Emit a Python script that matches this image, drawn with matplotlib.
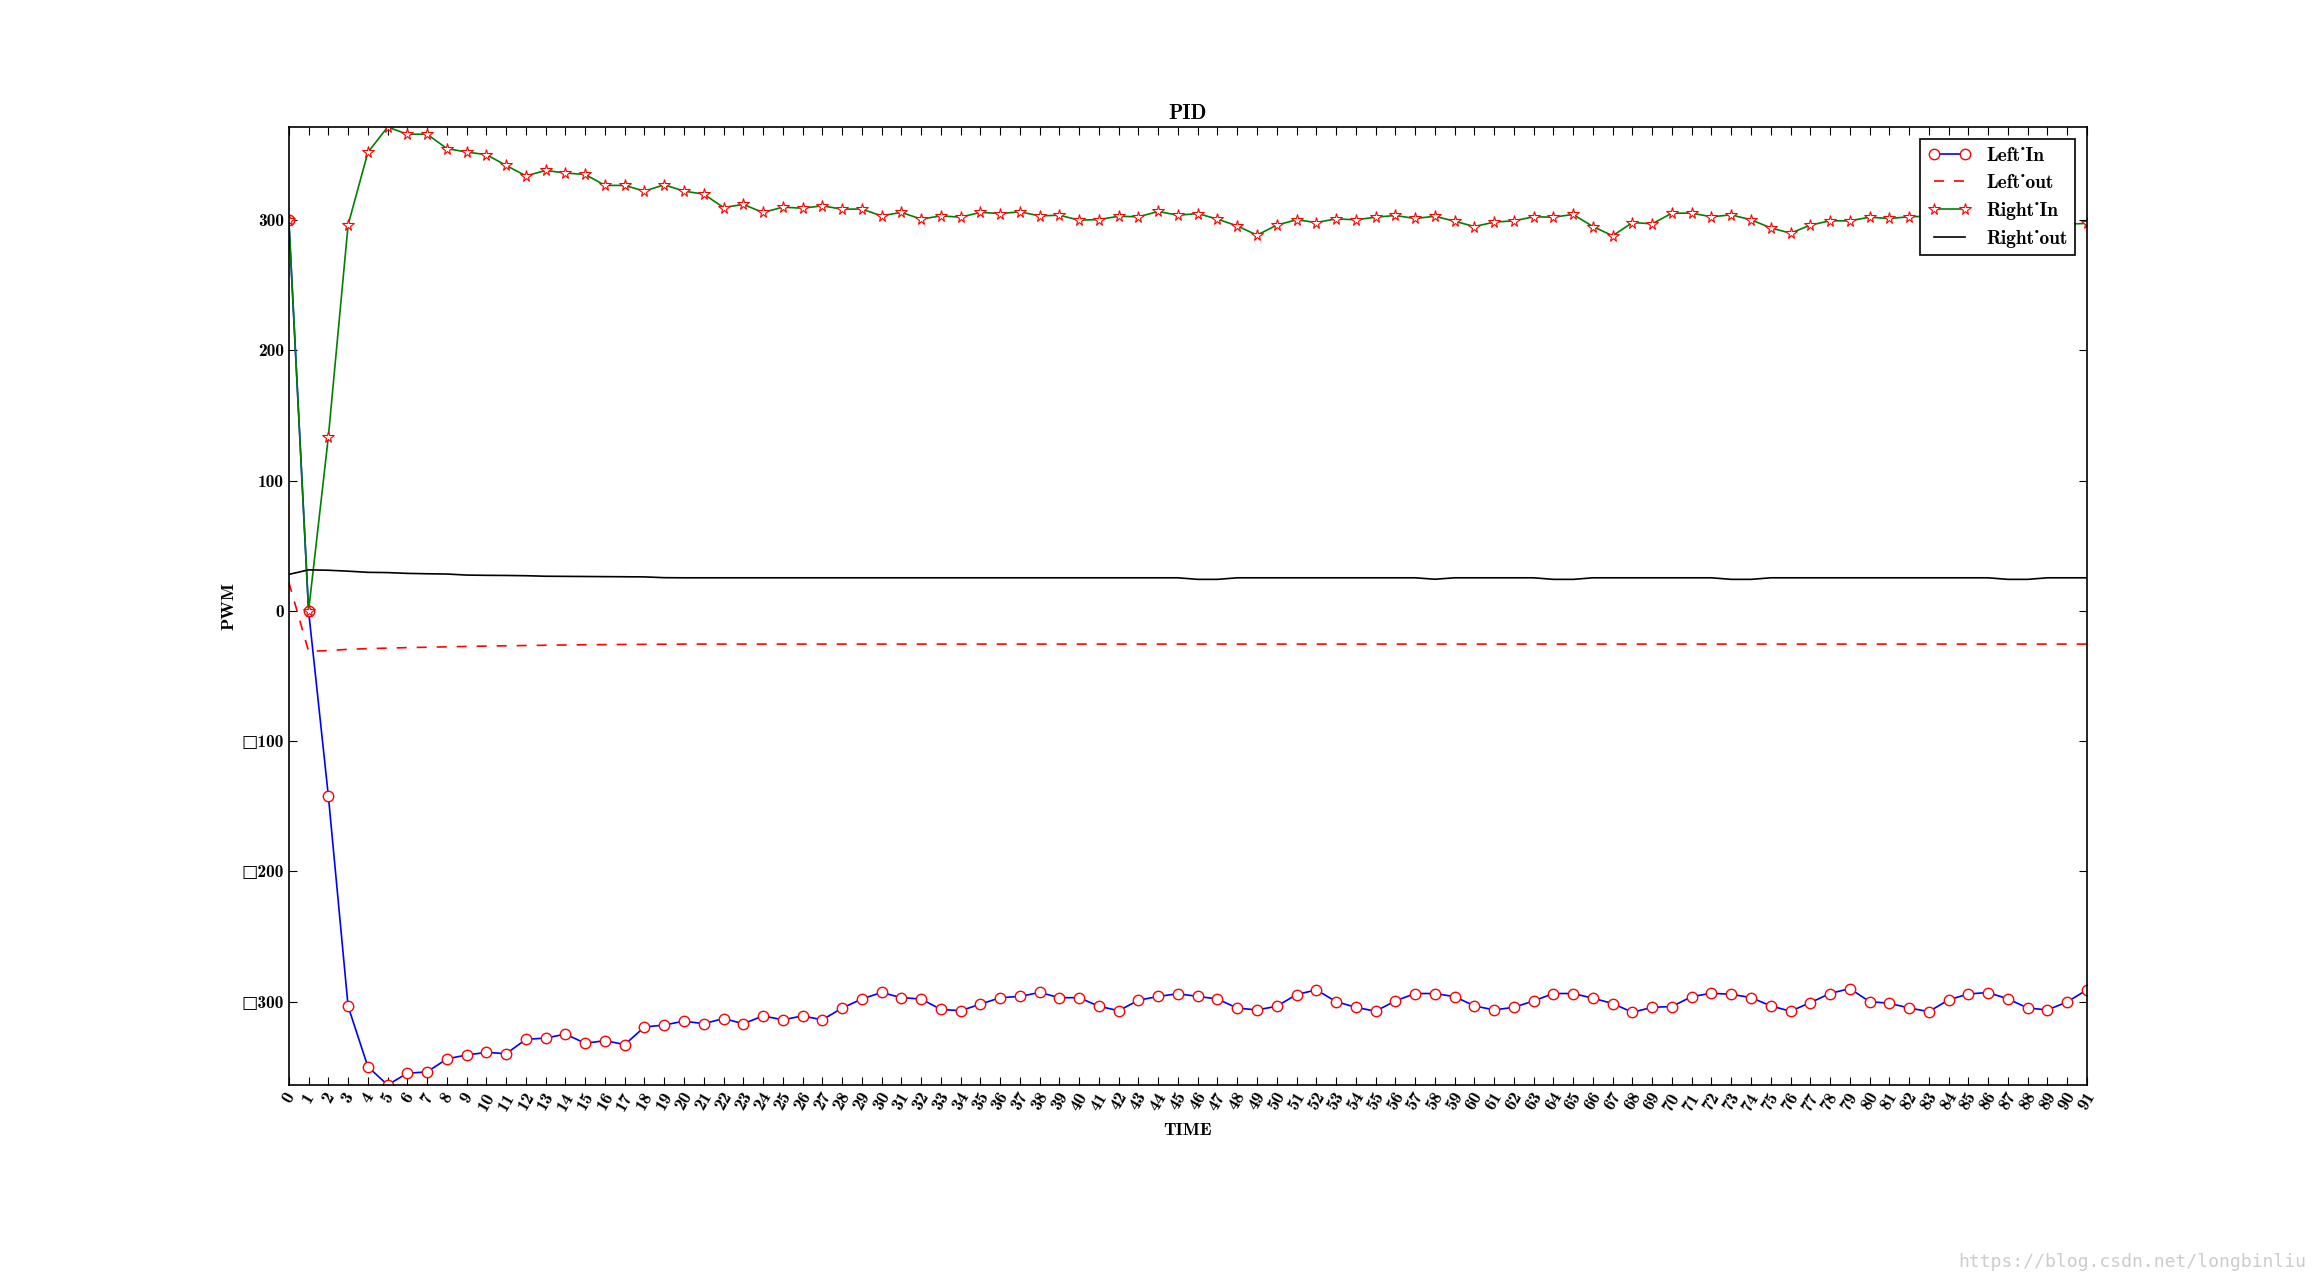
import numpy as np
import matplotlib
matplotlib.use('Agg')
import matplotlib.pyplot as plt

# PWM readings of a PID loop
time = list(range(92))
left_in = [300, 0, -142, -303.6, -350, -364, -355, -354, -344, -341,
           -339, -340, -329, -328, -325, -332, -330, -333, -319.5, -318,
           -315, -317, -313, -317, -311, -314, -311, -314, -305, -298,
           -293, -297, -298, -306, -307, -302, -297, -296, -293, -297,
           -297, -303.6, -307, -299, -296, -294, -296, -298, -305, -306.4,
           -303.6, -294.6, -291, -300, -304.4, -307.4, -299.5, -293.8, -293.8, -296.2,
           -303.3, -306.4, -304.4, -299.5, -293.8, -293.8, -297.4, -301.5, -308.2, -304.4,
           -303.8, -296.2, -293.6, -294.4, -296.9, -303.3, -307.4, -300.8, -293.8, -290,
           -300, -301.3, -304.9, -307.7, -298.7, -294.1, -293.1, -297.9, -304.9, -306.4,
           -300.3, -291]
left_out = [22, -31, -30.5, -29.5, -29, -28.6, -28.2, -27.9, -27.6, -27.3,
            -27, -26.8, -26.6, -26.4, -26.2, -26, -25.9, -25.8, -25.7, -25.6,
            -25.5] + [-25.5] * 71
right_in = [300, 0, 133.5, 296.4, 352, 371.5, 366, 366, 355, 352.3,
            350.3, 342, 334, 338.2, 336.2, 335.1, 326.7, 326.7, 322.3, 327.2,
            322.3, 320, 309.7, 312.1, 305.9, 310, 309.2, 311, 308.5, 308.5,
            303.3, 306, 300.8, 303.3, 302.3, 306, 305.1, 306.4, 303.3, 303.8,
            300, 300.5, 303, 302.6, 306.7, 303.8, 305.1, 300.8, 295.6, 288.5,
            296.2, 300.3, 298.2, 301, 300.3, 302.3, 303.6, 301.3, 303, 299.2,
            295.1, 298.5, 299.5, 302.6, 302.3, 304.4, 295.1, 288, 298.2, 297.2,
            305.4, 305.4, 302.6, 304.1, 300.3, 294.1, 290, 296.2, 299.5, 299.5,
            302.3, 301.3, 302.6, 303, 302, 301, 303, 300, 298, 299,
            297, 297.5]
right_out = [28, 31.5, 31.2, 30.5, 29.6, 29.4, 28.8, 28.5, 28.3, 27.5,
             27.3, 27.2, 27, 26.6, 26.5, 26.4, 26.3, 26.2, 26.1, 25.5,
             25.4, 25.4, 25.4, 25.4, 25.4, 25.4, 25.4, 25.4, 25.4, 25.4,
             25.4, 25.4, 25.4, 25.4, 25.4, 25.4, 25.4, 25.4, 25.4, 25.4,
             25.4, 25.4, 25.4, 25.4, 25.4, 25.4, 24.2, 24.2, 25.4, 25.4,
             25.4, 25.4, 25.4, 25.4, 25.4, 25.4, 25.4, 25.4, 24.3, 25.4,
             25.4, 25.4, 25.4, 25.4, 24.2, 24.2, 25.4, 25.4, 25.4, 25.4,
             25.4, 25.4, 25.4, 24.2, 24.2, 25.4, 25.4, 25.4, 25.4, 25.4,
             25.4, 25.4, 25.4, 25.4, 25.4, 25.4, 25.4, 24.2, 24.2, 25.4,
             25.4, 25.4]
ytick_vals = [-300, -200, -100, 0, 100, 200, 300]
ytick_labels = ['\u25a1300', '\u25a1200', '\u25a1100', '0', '100', '200', '300']

plt.rcParams['font.family'] = ['cmb10', 'DejaVu Serif', 'DejaVu Sans']
plt.rcParams['font.size'] = 12
plt.rcParams['axes.unicode_minus'] = False

fig = plt.figure(figsize=(23.18, 12.77), dpi=100)
fig.subplots_adjust(left=0.1246, right=0.9003, bottom=0.1504, top=0.9005)
ax = fig.add_subplot(111)

ax.plot(time, left_in, color='b', marker='o', markersize=7.5, markerfacecolor='w',
        markeredgecolor='r', markeredgewidth=1.0, linewidth=1.2, label='Left_In')
ax.plot(time, left_out, color='r', linestyle='--', dashes=(6, 6), linewidth=1.2, label='Left_out')
ax.plot(time, right_in, color='g', marker='*', markersize=8.5, markerfacecolor='w',
        markeredgecolor='r', markeredgewidth=0.8, linewidth=1.2, label='Right_In')
ax.plot(time, right_out, color='k', linewidth=1.2, label='Right_out')

ax.set_xlim(0, 91)
ax.set_ylim(min(left_in), max(right_in))
ax.set_xticks(time)
ax.set_xticklabels([str(t) for t in time], rotation=60, fontsize=13)
ax.set_yticks(ytick_vals)
ax.set_yticklabels(ytick_labels, fontsize=12.5)
ax.tick_params(direction='in', top=True, right=True, length=6, width=0.8)
for s in ax.spines.values():
    s.set_linewidth(1.2)

ax.set_title('PID', fontsize=15)
ax.set_xlabel('TIME', fontsize=13, labelpad=7)
ax.set_ylabel('PWM', fontsize=13)
leg = ax.legend(loc='upper right', numpoints=2, fancybox=False, fontsize=14,
                framealpha=1, borderaxespad=0.6, handlelength=2.2)
leg.get_frame().set_edgecolor('k')
leg.get_frame().set_linewidth(1.2)

fig.text(0.995, 0.005, 'https://blog.csdn.net/longbinliu', ha='right', va='bottom',
         color='#cccccc', fontsize=13, family='DejaVu Sans Mono')

fig.savefig('out.png', dpi=100, facecolor='white')
